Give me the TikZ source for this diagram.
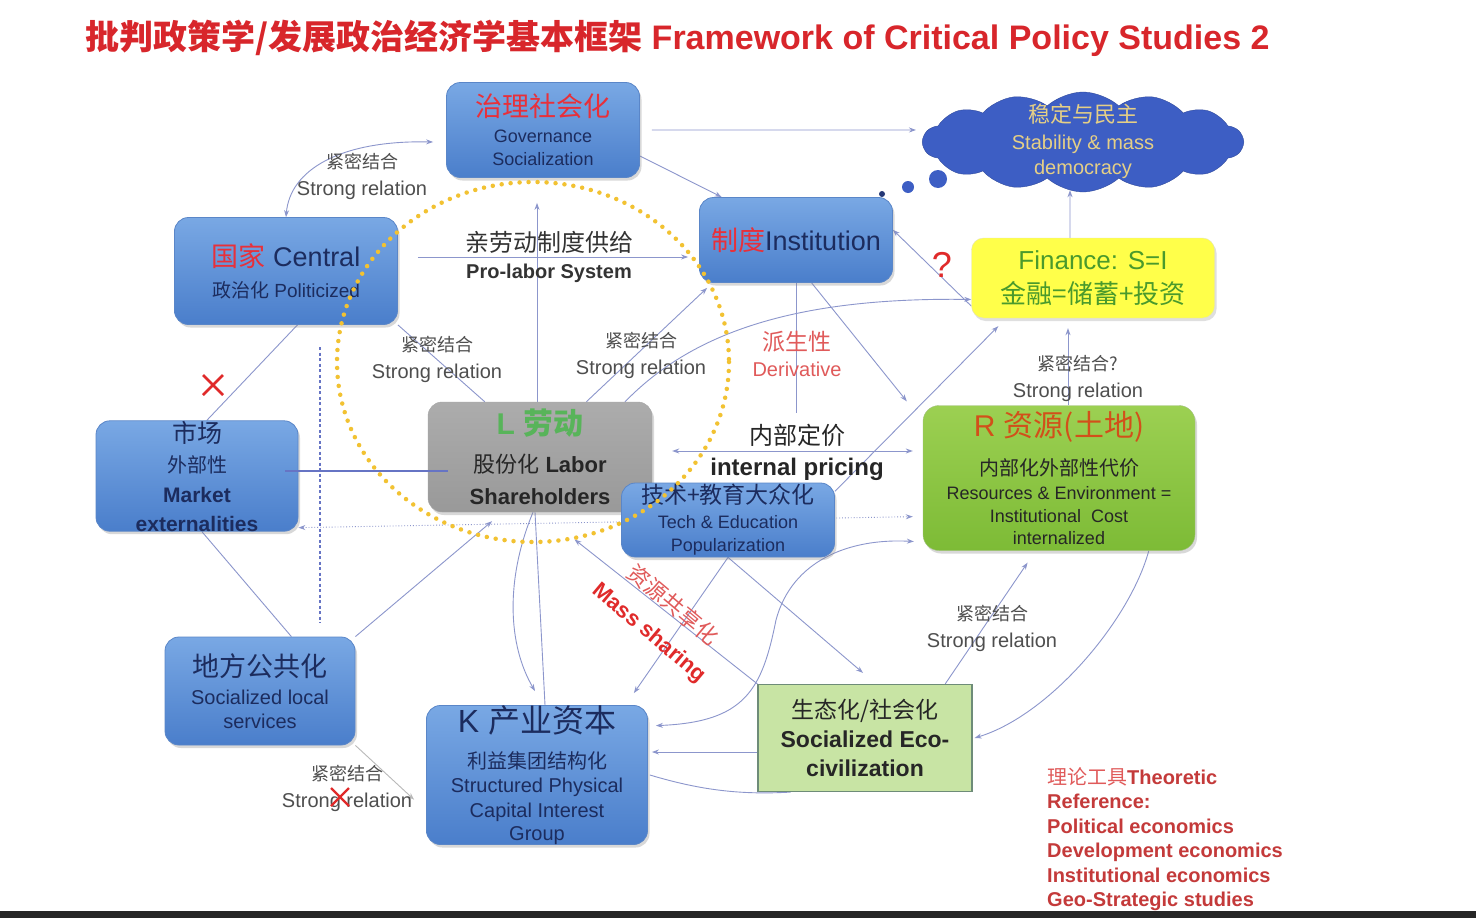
\documentclass[tikz,border=0pt]{standalone}
\usepackage{fontspec}
\setmainfont{Liberation Sans}
\newfontfamily\cjk{Noto Sans CJK SC}
\usetikzlibrary{arrows.meta,shapes.symbols,shadows,calc,backgrounds}
\newcommand\zh[1]{{\cjk #1}}
\newcommand\fs[2]{\fontsize{#1}{#2}\selectfont}
\definecolor{tred}{HTML}{D8262B}
\definecolor{bred}{HTML}{E8303A}
\definecolor{navy}{HTML}{1C2C5E}
\definecolor{btop}{HTML}{79A8E4}
\definecolor{bbot}{HTML}{4A7ECB}
\definecolor{bbord}{HTML}{5A86C8}
\definecolor{lc}{HTML}{8C96CC}
\definecolor{lc2}{HTML}{6674C4}
\definecolor{lgreen}{HTML}{58B45A}
\definecolor{rorange}{HTML}{D2501A}
\definecolor{fgreen}{HTML}{4A9A2C}
\definecolor{cloudc}{HTML}{3D5EC4}
\definecolor{goldt}{HTML}{E5CF86}
\definecolor{graylab}{HTML}{4E4E4E}
\definecolor{dred}{HTML}{E05A5A}
\definecolor{refred}{HTML}{C43A3A}
\definecolor{dotgold}{HTML}{F2C232}
\definecolor{xred}{HTML}{E02A2A}
\definecolor{rtop}{HTML}{9CD052}
\definecolor{rbot}{HTML}{7DBB36}
\definecolor{ecofill}{HTML}{C8E4A4}
\definecolor{ecobord}{HTML}{6E8C78}
\definecolor{finfill}{HTML}{FFFF4A}
\begin{document}
\begin{tikzpicture}[x=1pt,y=-1pt,
  bbox/.style={rectangle, rounded corners=14pt, draw=bbord, line width=0.8pt,
    top color=btop, bottom color=bbot,
    drop shadow={opacity=0.3, shadow xshift=2pt, shadow yshift=-3pt},
    align=center, text=navy, inner sep=0pt},
  conn/.style={draw=lc, line width=0.9pt},
  arr/.style={-{Stealth[length=7pt,width=5pt]}},
  arrb/.style={{Stealth[length=7pt,width=5pt]}-{Stealth[length=7pt,width=5pt]}},
  lab/.style={align=center, text=graylab, inner sep=0pt, font=\fs{20}{22}},
]
\useasboundingbox (0,0) rectangle (1476,918);

% title
\node[anchor=west, inner sep=0pt, text=tred, font=\fs{34}{40}\bfseries] (title) at (85,38)
  {\zh{批判政策学/发展政治经济学基本框架} Framework of Critical Policy Studies 2};

% ---------- boxes ----------
\node[bbox, minimum width=193pt, minimum height=95pt, font=\fs{18}{22}] (gov) at (543,130)
  {{\fs{27}{30}\color{bred}\zh{治理社会化}}\\[4pt]Governance\\[1pt]Socialization};
\node[bbox, minimum width=223pt, minimum height=107pt, font=\fs{19}{22}] (central) at (286,271)
  {{\fs{27}{30}\textcolor{bred}{\zh{国家}} Central}\\[9pt]\zh{政治化} Politicized};
\node[bbox, minimum width=193pt, minimum height=85pt, font=\fs{27}{30}] (inst) at (796,240)
  {\textcolor{bred}{\zh{制度}}Institution};
\node[rectangle, rounded corners=12pt, fill=finfill, draw=yellow!60!black!30,
  drop shadow={opacity=0.25, shadow xshift=2pt, shadow yshift=-3pt},
  minimum width=243pt, minimum height=80pt, align=center, text=fgreen, inner sep=0pt,
  font=\fs{26}{30}] (fin) at (1093,278)
  {Finance: S=I\\[4pt]\zh{金融=储蓄+投资}};
\node[cloud, cloud puffs=14, cloud puff arc=85, cloud ignores aspect, fill=cloudc, draw=cloudc!80!black,
  minimum width=320pt, minimum height=100pt, inner sep=0pt] (cloud) at (1083,142) {};
\node[inner sep=0pt, align=center, text=goldt, font=\fs{20}{22}] (cloudtxt) at (1083,141)
  {{\fs{22}{24}\zh{稳定与民主}}\\[5pt]Stability \& mass\\[3pt]democracy};
\node[bbox, minimum width=202pt, minimum height=107pt, font=\fs{21}{22}] (market) at (197,476)
  {{\fs{25}{28}\zh{市场}}\\[8pt]{\fs{20}{22}\zh{外部性}}\\[8pt]\textbf{Market}\\[7pt]\textbf{externalities}};
\node[rectangle, rounded corners=14pt, top color=gray!65, bottom color=gray!80, draw=gray!70,
  drop shadow={opacity=0.3, shadow xshift=2pt, shadow yshift=-3pt},
  minimum width=224pt, minimum height=110pt, align=center, text=black!85, inner sep=0pt,
  font=\fs{22}{26}] (labor) at (540,457)
  {{\fs{30}{32}\color{lgreen}\bfseries L \zh{劳动}}\\[12pt]\zh{股份化} \textbf{Labor}\\[6pt]\textbf{Shareholders}};
\node[bbox, minimum width=213pt, minimum height=74pt, font=\fs{18}{22}] (tech) at (728,520)
  {{\fs{23}{26}\zh{技术+教育大众化}}\\[3pt]Tech \& Education\\[1pt]Popularization};
\node[rectangle, rounded corners=16pt, top color=rtop, bottom color=rbot, draw=rbot!80!black!60,
  drop shadow={opacity=0.3, shadow xshift=2pt, shadow yshift=-3pt},
  minimum width=272pt, minimum height=145pt, align=center, text=black!85, inner sep=0pt,
  font=\fs{18}{20}] (R) at (1059,478)
  {{\fs{30}{32}\color{rorange}R \zh{资源(土地)}}\\[16pt]{\fs{20}{22}\zh{内部化外部性代价}}\\[4pt]Resources \& Environment =\\[3pt]Institutional~~Cost\\[2pt]internalized};
\node[bbox, minimum width=190pt, minimum height=108pt, font=\fs{20}{22}] (local) at (260,691)
  {{\fs{27}{30}\zh{地方公共化}}\\[6pt]Socialized local\\[2pt]services};
\node[bbox, minimum width=221pt, minimum height=135pt, font=\fs{20}{22}] (K) at (537,775)
  {{\fs{32}{34}K \zh{产业资本}}\\[14pt]\zh{利益集团结构化}\\[2pt]Structured Physical\\[3pt]Capital Interest\\[1pt]Group};
\node[rectangle, fill=ecofill, draw=ecobord, line width=1.2pt,
  minimum width=214pt, minimum height=107pt, align=center, text=black!85, inner sep=0pt,
  font=\fs{23}{26}] (eco) at (865,738)
  {\zh{生态化/社会化}\\[3pt]\textbf{Socialized Eco-}\\[3pt]\textbf{civilization}};

% ---------- connectors (behind the boxes) ----------
\begin{scope}[on background layer]
\fill[white] (0,0) rectangle (1476,918);
\fill[black!85] (0,911) rectangle (1476,918);
\draw[conn,arrb] (central.north) .. controls (290,170) and (340,140) .. ([shift={(-13,12)}]gov.west);
\draw[conn,arr] ([shift={(12,0)}]gov.east) -- ([shift={(-6,-12)}]cloud.west);
\draw[conn,arr] (gov.-15) -- (inst.150);
\draw[conn,arr] ([xshift=-3pt]labor.north) -- ([shift={(-6,25)}]gov.south);
\draw[conn,arr] ([shift={(20,-14)}]central.east) -- ([shift={(-11,17)}]inst.west);
\draw[conn] (central.south east) -- (labor.135);
\draw[conn] (central.-78) -- (market.80);
\draw[conn,arr] (labor.50) -- ([shift={(8,5)}]inst.south west);
\draw[conn,arr] (labor.33) .. controls (690,335) and (790,297) .. (fin.190);
\draw[conn] (inst.south) -- ++(0,130);
\draw[conn,arr] (inst.-70) -- ([shift={(-16,-4)}]R.north west);
\draw[conn,arr] (fin.193) -- (inst.6);
\draw[conn,arr] ([xshift=-23pt]fin.north) -- ([shift={(-13,-2)}]cloud.south);
\draw[conn,arr] ([xshift=9pt]R.north) -- ([shift={(-25,10)}]fin.south);
\draw[conn,arr] (tech.15) -- ([shift={(0,8)}]fin.203);
\draw[conn,arrb] ([shift={(20,-6)}]labor.east) -- ([shift={(-10,-27)}]R.west);
\draw[conn,dotted,arrb] (market.-27) -- ([shift={(-10,-3)}]R.197.5);
\draw[conn] (market.-85) -- (local.60);
\draw[conn,arr] (local.north east) -- ([shift={(0,9)}]labor.-131);
\draw[conn,draw=gray!55,arr] (local.south east) -- ([shift={(-12,-3)}]K.194);
\draw[conn,arr] ([xshift=-7pt]labor.south) .. controls (505,580) and (508,645) .. ([shift={(-2,-14)}]K.north);
\draw[conn] ([xshift=-5pt]labor.south) -- ([xshift=8pt]K.north);
\draw[conn,arr] (tech.south) -- ([shift={(-14,-12)}]K.north east);
\draw[conn,arr,shorten >=44pt] (eco.north west) -- (labor.south);
\draw[conn,arr] (tech.south) -- ([shift={(-2,-11)}]eco.north);
\draw[conn,arr] (eco.34) -- ([shift={(-5,12)}]R.-110);
\draw[conn,arr] (R.-39) .. controls (1130,620) and (1050,715) .. ([xshift=2pt]eco.east);
\draw[conn,arrb] ([xshift=8pt]K.24) .. controls (745,722) and (762,690) .. (776,620)
   .. controls (792,560) and (850,538) .. ([xshift=-9pt]R.205);
\draw[conn,arr] ([shift={(0,14)}]eco.west) -- ([shift={(4,-23)}]K.east);
\draw[conn] ([shift={(2,0)}]K.east) .. controls (700,790) and (740,795) .. (eco.-144);
\end{scope}

% solid market-labor line and dashed vertical
\draw[draw=lc2, line width=1.6pt] ([shift={(-13,-5)}]market.east) -- ([shift={(20,14)}]labor.west);
\coordinate (vd1) at (320,347);
\coordinate (vd2) at (320,623);
\draw[draw=lc2, line width=1.2pt, dash pattern=on 3pt off 2.5pt] (vd1) -- (vd2);

% thought bubbles
\fill[cloudc] (938,179) circle[radius=9];
\fill[cloudc] (908,187) circle[radius=6];
\fill[cloudc!60!black] (882,194) circle[radius=3];

% yellow dotted ellipse
\draw[dotgold, line width=4.5pt, line cap=round, dash pattern=on 0pt off 9pt]
  (533,362) ellipse[x radius=196, y radius=180];

% ---------- labels ----------
\node[lab] (l1) at (362,176) {{\fs{18}{20}\zh{紧密结合}}\\[5pt]Strong relation};
\node[lab, text=black!80] (l2) at (549,257) {{\fs{24}{26}\zh{亲劳动制度供给}}\\[5pt]\textbf{Pro-labor System}};
\node[lab] (l3) at (437,359) {{\fs{18}{20}\zh{紧密结合}}\\[5pt]Strong relation};
\node[lab] (l4) at (641,355) {{\fs{18}{20}\zh{紧密结合}}\\[5pt]Strong relation};
\node[lab, text=dred] (l5) at (797,354) {{\fs{23}{24}\zh{派生性}}\\[4pt]Derivative};
\node[inner sep=0pt, text=xred, font=\fs{36}{40}] (q) at (942,265) {?};
\node[lab] (l6) at (1078,378) {{\fs{18}{20}\zh{紧密结合?}}\\[5pt]Strong relation};
\node[lab, text=black!85, font=\fs{24}{26}] (l7) at (797,452) {\zh{内部定价}\\[5pt]\textbf{internal pricing}};
\node[lab] (l8) at (992,628) {{\fs{18}{20}\zh{紧密结合}}\\[5pt]Strong relation};
\node[lab] (l9) at (347,788) {{\fs{18}{20}\zh{紧密结合}}\\[5pt]Strong relation};
\node[inner sep=0pt, align=center, text=xred, font=\fs{22}{24}, rotate=-40] (ms) at (661,619)
  {{\color{dred}\zh{资源共享化}}\\[11pt]\textbf{Mass sharing}};

% red crosses
\draw[xred, line width=2.5pt] (203,375) -- (223,395) (203,395) -- (223,375);
\draw[xred, line width=2.2pt] (331,788) -- (349,806) (331,806) -- (349,788);

% reference text
\node[anchor=north west, align=left, inner sep=0pt, text=refred, font=\fs{20}{24.5}\bfseries] (ref) at (1047,767)
  {{\mdseries\color{dred}\zh{理论工具}}Theoretic\\Reference:\\Political economics\\Development economics\\Institutional economics\\Geo-Strategic studies};
\end{tikzpicture}
\end{document}
